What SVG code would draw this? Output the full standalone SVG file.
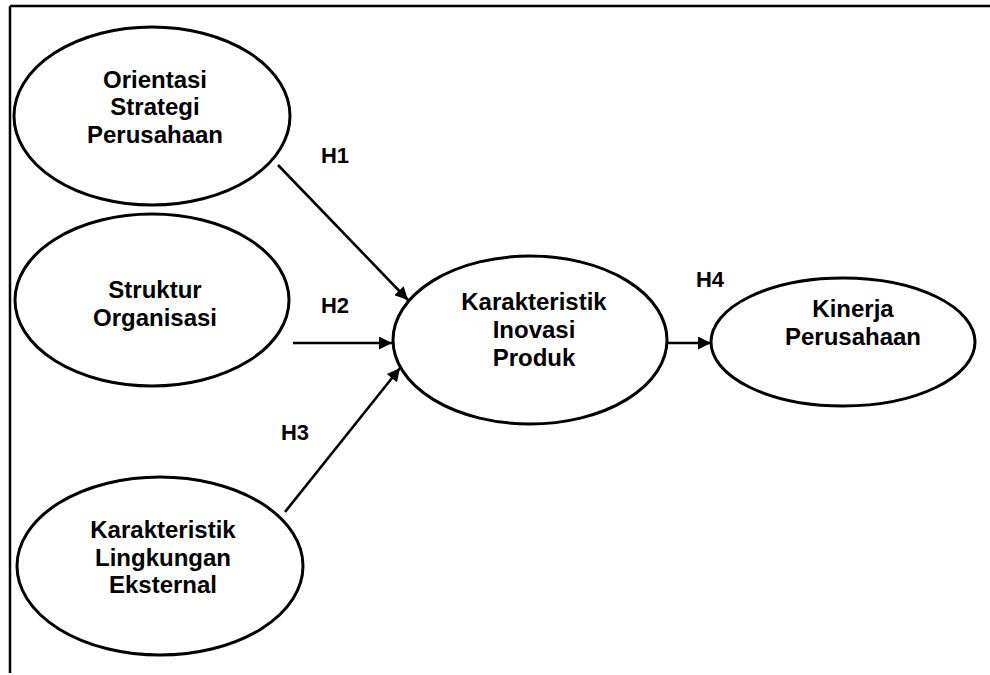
<svg xmlns="http://www.w3.org/2000/svg" width="990" height="675" viewBox="0 0 990 675">
<style>
.n ellipse{fill:#fff;stroke:#000;stroke-width:3}
text{font-family:"Liberation Sans",Arial,sans-serif;font-weight:bold;font-size:24px;fill:#000;text-anchor:middle}
#labels text{font-size:22px}
.c line{stroke:#000;stroke-width:2.6;marker-end:url(#ah)}
</style>
<defs>
<marker id="ah" viewBox="0 0 10 10" refX="10" refY="5" markerWidth="6" markerHeight="5" markerUnits="strokeWidth" orient="auto">
<path d="M0,0 L10,5 L0,10 Z" fill="#000"/>
</marker>
</defs>
<rect width="990" height="675" fill="#fff"/>
<g id="frame" stroke="#000" stroke-width="2.5" fill="none">
<line x1="10" y1="6" x2="990" y2="6"/>
<line x1="10" y1="6" x2="10" y2="673"/>
</g>
<g id="orientasi" class="n">
<ellipse cx="152" cy="116" rx="138" ry="89"/>
<text x="155" y="88">Orientasi</text>
<text x="155" y="115">Strategi</text>
<text x="155" y="143">Perusahaan</text>
</g>
<g id="struktur" class="n">
<ellipse cx="152" cy="300" rx="137" ry="86"/>
<text x="155" y="298">Struktur</text>
<text x="155" y="326">Organisasi</text>
</g>
<g id="lingkungan" class="n">
<ellipse cx="160" cy="566" rx="143" ry="89"/>
<text x="163" y="538">Karakteristik</text>
<text x="163" y="566">Lingkungan</text>
<text x="163" y="593">Eksternal</text>
</g>
<g id="inovasi" class="n">
<ellipse cx="530" cy="340" rx="137" ry="84"/>
<text x="534" y="310">Karakteristik</text>
<text x="534" y="338">Inovasi</text>
<text x="534" y="366">Produk</text>
</g>
<g id="kinerja" class="n">
<ellipse cx="843" cy="342" rx="132" ry="64"/>
<text x="853" y="317">Kinerja</text>
<text x="853" y="345">Perusahaan</text>
</g>
<g id="connectors" class="c">
<line x1="278" y1="165" x2="408" y2="300"/>
<line x1="293" y1="343" x2="392" y2="343"/>
<line x1="285" y1="512" x2="400" y2="368"/>
<line x1="667" y1="343" x2="711" y2="343"/>
</g>
<g id="labels">
<text x="335" y="163">H1</text>
<text x="335" y="313">H2</text>
<text x="295" y="440">H3</text>
<text x="710" y="287">H4</text>
</g>
</svg>
